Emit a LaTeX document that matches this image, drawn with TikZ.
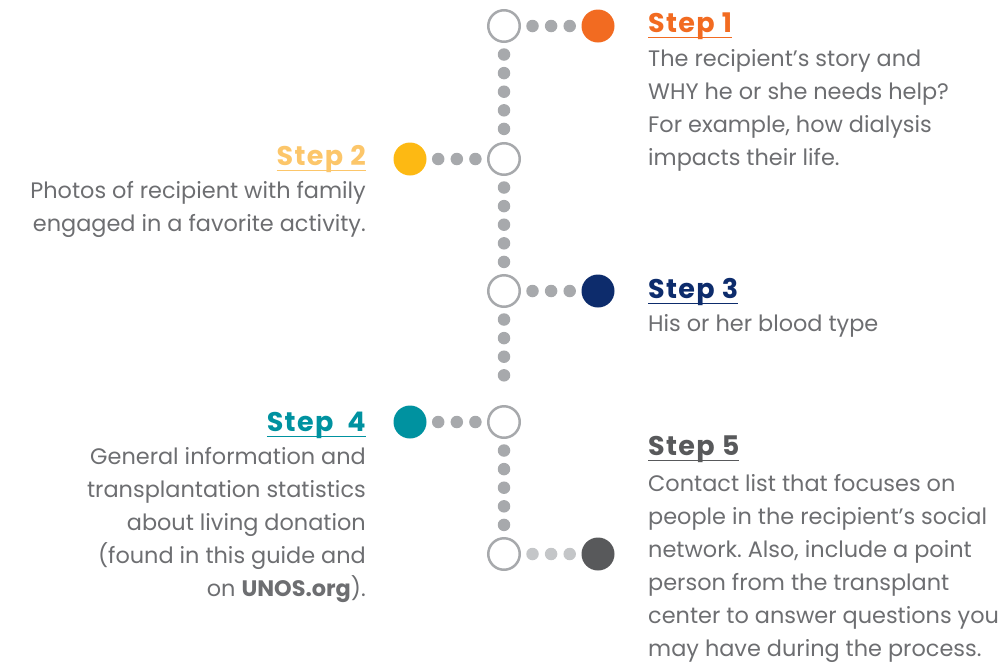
\documentclass[tikz,border=0pt]{standalone}
\usepackage{fontspec}
\setmainfont{Poppins}
\usetikzlibrary{positioning}
\frenchspacing

\definecolor{ringgray}{HTML}{A7A9AC}
\definecolor{palegray}{HTML}{C4C6C8}
\definecolor{bodygray}{HTML}{6D6E71}
\definecolor{steporange}{HTML}{F26B21}
\definecolor{stepyellow}{HTML}{FDB913}
\definecolor{titleyellow}{HTML}{FCC66A}
\definecolor{stepnavy}{HTML}{0D2C6C}
\definecolor{stepteal}{HTML}{0092A0}
\definecolor{stepdark}{HTML}{58595B}

% underlined step heading
\newcommand\stepline[1]{\setbox0\hbox{#1}\leavevmode\rlap{\vrule height -4.6pt depth 6.4pt width \wd0}\box0}

\begin{document}
\begin{tikzpicture}[x=1pt, y=-1pt,
    hub/.style={circle, draw=ringgray, line width=2.5pt, minimum size=31.5pt, inner sep=0pt},
    stepdot/.style={circle, minimum size=33pt, inner sep=0pt},
    dotlink/.style={draw=ringgray, line width=12.5pt, line cap=round, dash pattern=on 0pt off 18.6pt, shorten <=11.5pt, shorten >=11.5pt},
    steptitle/.style={font=\fontsize{27}{30}\selectfont\bfseries\addfontfeature{LetterSpace=5}, inner sep=0pt},
    stepbody/.style={font=\fontsize{22.4}{33}\selectfont, text=bodygray, inner sep=0pt}
]
\useasboundingbox (0,0) rectangle (1005,662);

% spine
\node[hub] (hub1) at (504,26) {};
\node[hub] (hub2) at (504,159) {};
\node[hub] (hub3) at (504,291) {};
\node[hub] (hub4) at (504,422) {};
\node[hub] (hub5) at (504,554) {};

\node[stepdot, fill=steporange] (dot1) at (598,26) {};
\node[stepdot, fill=stepyellow] (dot2) at (410,159) {};
\node[stepdot, fill=stepnavy] (dot3) at (598,291) {};
\node[stepdot, fill=stepteal] (dot4) at (410,422) {};
\node[stepdot, fill=stepdark] (dot5) at (598,554) {};

\draw[dotlink] (hub1) -- (hub2);
\draw[dotlink] (hub2) -- (hub3);
\draw[dotlink] (hub3) -- (hub4);
\draw[dotlink] (hub4) -- (hub5);

\draw[dotlink] (hub1) -- (dot1);
\draw[dotlink] (dot2) -- (hub2);
\draw[dotlink] (hub3) -- (dot3);
\draw[dotlink] (dot4) -- (hub4);
\draw[dotlink, draw=palegray] (hub5) -- (dot5);

% texts
\node[steptitle, text=steporange, anchor=base west] (title1) at (648,32) {\stepline{Step 1}};
\node[stepbody, anchor=north west, align=left] (body1) at (648,49) {The recipient’s story and\\WHY he or she needs help?\\For example, how dialysis\\impacts their life.};

\node[steptitle, text=titleyellow, anchor=base east] (title2) at (366,165) {\stepline{Step 2}};
\node[stepbody, anchor=north east, align=right] (body2) at (366,181) {Photos of recipient with family\\engaged in a favorite activity.};

\node[steptitle, text=stepnavy, anchor=base west] (title3) at (648,298) {\stepline{Step 3}};
\node[stepbody, anchor=north west, align=left] (body3) at (648,314) {His or her blood type};

\node[steptitle, text=stepteal, anchor=base east] (title4) at (366,431) {\stepline{Step~~4}};
\node[stepbody, anchor=north east, align=right] (body4) at (366,447) {General information and\\transplantation statistics\\about living donation\\(found in this guide and\\on \textbf{UNOS.org}).};

\node[steptitle, text=stepdark, anchor=base west] (title5) at (648,455) {\stepline{Step 5}};
\node[stepbody, anchor=north west, align=left] (body5) at (648,474) {Contact list that focuses on\\people in the recipient’s social\\network. Also, include a point\\person from the transplant\\center to answer questions you\\may have during the process.};

\end{tikzpicture}
\end{document}
